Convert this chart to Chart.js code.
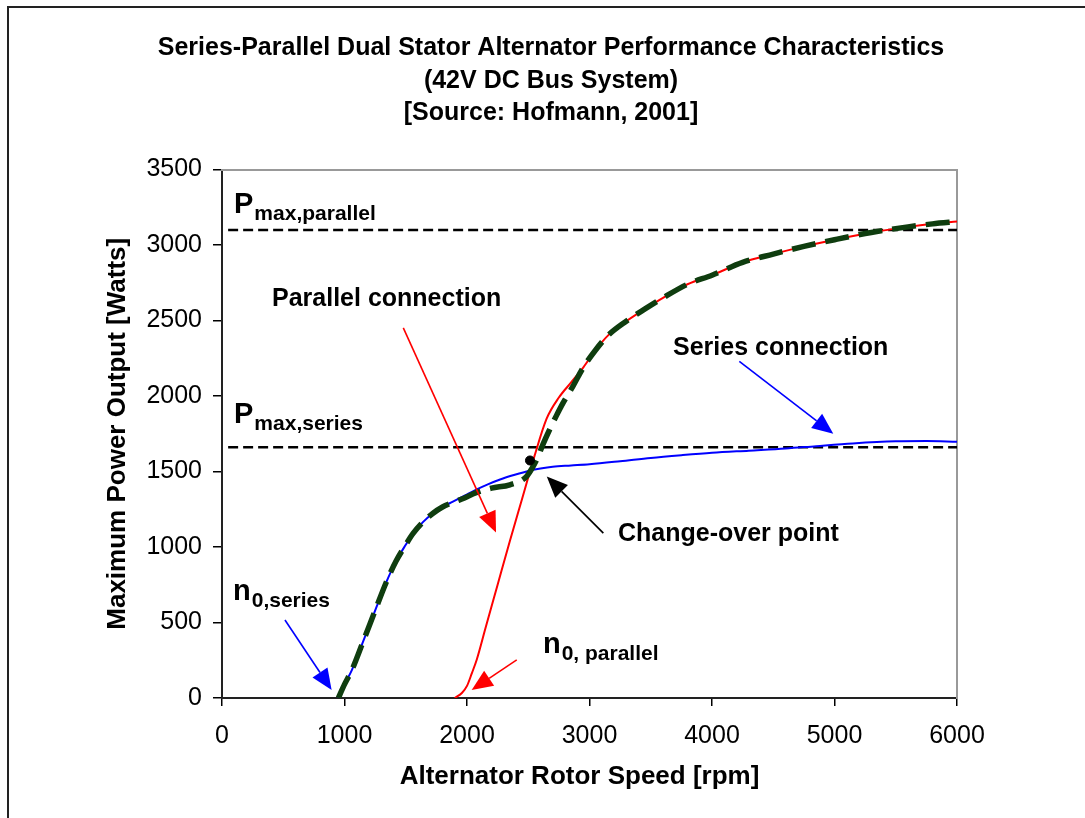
<!DOCTYPE html>
<html>
<head>
<meta charset="utf-8">
<script src="https://cdn.jsdelivr.net/npm/chart.js@4.4.1/dist/chart.umd.min.js"></script>
<style>
  html, body { margin: 0; padding: 0; background: #fff; }
  #wrap { width: 1085px; height: 818px; }
</style>
</head>
<body>
<div id="wrap"><canvas id="perfChart" width="1085" height="818"></canvas></div>
<script>
var FONT = "'Liberation Sans', Arial, Helvetica, sans-serif";

// series connection (blue)
var seriesRpm = [950, 1000, 1060, 1150, 1260, 1340, 1420, 1500, 1560, 1640, 1720, 1800, 1885, 1980, 2075, 2170, 2270, 2390, 2510, 2600, 2700, 2850, 3000, 3250, 3500, 3750, 4000, 4300, 4600, 4850, 5150, 5500, 5750, 6000];
var seriesW = [0, 90, 185, 370, 600, 765, 905, 1015, 1090, 1165, 1222, 1265, 1300, 1340, 1380, 1415, 1447, 1478, 1505, 1520, 1532, 1540, 1548, 1568, 1590, 1608, 1624, 1638, 1652, 1668, 1686, 1700, 1702, 1697];

// parallel connection (red)
var parallelRpm = [1900, 1960, 2000, 2040, 2080, 2150, 2250, 2350, 2450, 2550, 2650, 2750, 2850, 2950, 3050, 3150, 3300, 3450, 3600, 3800, 4000, 4250, 4500, 4750, 5000, 5300, 5600, 5800, 6000];
var parallelW = [0, 35, 80, 165, 255, 460, 750, 1040, 1320, 1600, 1850, 1990, 2090, 2190, 2305, 2400, 2495, 2575, 2650, 2740, 2800, 2885, 2940, 2991, 3035, 3083, 3120, 3140, 3155];

// combined operation (green dashed)
var comboRpm = [950, 1000, 1060, 1150, 1260, 1340, 1420, 1500, 1560, 1640, 1720, 1800, 1885, 1980, 2075, 2200, 2350, 2480, 2530, 2570, 2620, 2673, 2730, 2782, 2863, 2950, 3050, 3150, 3300, 3450, 3600, 3800, 4000, 4250, 4500, 4750, 5000, 5300, 5600, 5800, 6000];
var comboW = [0, 90, 185, 370, 600, 765, 905, 1015, 1090, 1165, 1222, 1265, 1295, 1325, 1360, 1390, 1412, 1462, 1520, 1580, 1680, 1775, 1870, 1951, 2062, 2190, 2305, 2400, 2495, 2575, 2650, 2740, 2800, 2885, 2940, 2991, 3035, 3083, 3120, 3140, 3155];

// limits and change-over point
var pmaxParallel = 3100;
var pmaxSeries = 1660;
var limitRpm = [50, 6000];
var changeOver = [2514, 1573];

var xTicks = [0, 1000, 2000, 3000, 4000, 5000, 6000];
var yTicks = [0, 500, 1000, 1500, 2000, 2500, 3000, 3500];

var titleLines = ['Series-Parallel Dual Stator Alternator Performance Characteristics', '(42V DC Bus System)', '[Source: Hofmann, 2001]'];
var xTitle = 'Alternator Rotor Speed [rpm]';
var yTitle = 'Maximum Power Output [Watts]';

// annotation anchors, in data units (rpm, W)
var arrows = [
  { from: [1480, 2451], to: [2237, 1096], color: '#ff0000' },
  { from: [4223, 2229], to: [4990, 1750], color: '#0000ff' },
  { from: [514, 517], to: [895, 53], color: '#0000ff' },
  { from: [2406, 252], to: [2038, 53], color: '#ff0000' },
  { from: [3113, 1092], to: [2651, 1467], color: '#000000' }
];
var labels = [
  { at: [408, 2599], text: 'Parallel connection' },
  { at: [3682, 2274], text: 'Series connection' },
  { at: [3233, 1041], text: 'Change-over point' }
];
var subLabels = [
  { at: [98, 3215], main: 'P', sub: 'max,parallel' },
  { at: [98, 1823], main: 'P', sub: 'max,series' },
  { at: [90, 650], main: 'n', sub: '0,series' },
  { at: [2620, 298], main: 'n', sub: '0, parallel' }
];

function pts(xs, ys) {
  return xs.map(function (v, i) { return { x: v, y: ys[i] }; });
}

function drawArrow(ctx, x0, y0, x1, y1, color) {
  var ang = Math.atan2(y1 - y0, x1 - x0);
  var len = 21, half = 9;
  var bx = x1 - len * Math.cos(ang), by = y1 - len * Math.sin(ang);
  ctx.strokeStyle = color;
  ctx.lineWidth = 1.6;
  ctx.beginPath();
  ctx.moveTo(x0, y0);
  ctx.lineTo(bx, by);
  ctx.stroke();
  ctx.fillStyle = color;
  ctx.beginPath();
  ctx.moveTo(x1, y1);
  ctx.lineTo(bx + half * Math.sin(ang), by - half * Math.cos(ang));
  ctx.lineTo(bx - half * Math.sin(ang), by + half * Math.cos(ang));
  ctx.closePath();
  ctx.fill();
}

var framePlugin = {
  id: 'frame',
  beforeDraw: function (chart) {
    var ctx = chart.ctx;
    ctx.save();
    ctx.fillStyle = '#fff';
    ctx.fillRect(0, 0, chart.width, chart.height);
    ctx.strokeStyle = '#222';
    ctx.lineWidth = 2;
    ctx.beginPath();
    ctx.moveTo(8, chart.height);
    ctx.lineTo(8, 7);
    ctx.lineTo(chart.width, 7);
    ctx.stroke();
    ctx.restore();
  }
};

var notePlugin = {
  id: 'notes',
  afterDatasetsDraw: function (chart) {
    var ctx = chart.ctx, sx = chart.scales.x, sy = chart.scales.y;
    ctx.save();
    arrows.forEach(function (a) {
      drawArrow(ctx, sx.getPixelForValue(a.from[0]), sy.getPixelForValue(a.from[1]),
        sx.getPixelForValue(a.to[0]), sy.getPixelForValue(a.to[1]), a.color);
    });
    ctx.fillStyle = '#000';
    ctx.textBaseline = 'alphabetic';
    ctx.textAlign = 'left';
    ctx.font = 'bold 25px ' + FONT;
    labels.forEach(function (l) {
      ctx.fillText(l.text, sx.getPixelForValue(l.at[0]), sy.getPixelForValue(l.at[1]));
    });
    subLabels.forEach(function (l) {
      var px = sx.getPixelForValue(l.at[0]), py = sy.getPixelForValue(l.at[1]);
      ctx.font = 'bold 29px ' + FONT;
      ctx.fillText(l.main, px, py);
      var w = ctx.measureText(l.main).width;
      ctx.font = 'bold 21px ' + FONT;
      ctx.fillText(l.sub, px + w + 1, py + 7);
    });
    // x axis title, centred a little left of the plot centre as in the source
    ctx.font = 'bold 26px ' + FONT;
    ctx.textAlign = 'center';
    ctx.textBaseline = 'middle';
    ctx.fillText(xTitle, (sx.left + sx.right) / 2 - 10, 777);
    ctx.restore();
  }
};

var ctx = document.getElementById('perfChart').getContext('2d');

var perfChart = new Chart(ctx, {
  type: 'line',
  data: {
    datasets: [
      {
        label: 'Change-over point',
        data: [{ x: changeOver[0], y: changeOver[1] }],
        showLine: false,
        pointRadius: 4.5,
        pointBackgroundColor: '#000',
        pointBorderColor: '#000',
        order: 0
      },
      {
        label: 'Operating curve',
        data: pts(comboRpm, comboW),
        borderColor: '#0f3d0f',
        borderWidth: 5.5,
        borderDash: [24, 10],
        pointRadius: 0,
        cubicInterpolationMode: 'monotone',
        fill: false,
        order: 1
      },
      {
        label: 'Parallel connection',
        data: pts(parallelRpm, parallelW),
        borderColor: '#ff0000',
        borderWidth: 2,
        pointRadius: 0,
        cubicInterpolationMode: 'monotone',
        fill: false,
        order: 2
      },
      {
        label: 'Series connection',
        data: pts(seriesRpm, seriesW),
        borderColor: '#0000ff',
        borderWidth: 2,
        pointRadius: 0,
        cubicInterpolationMode: 'monotone',
        fill: false,
        order: 3
      },
      {
        label: 'Pmax,parallel',
        data: pts(limitRpm, [pmaxParallel, pmaxParallel]),
        borderColor: '#000',
        borderWidth: 2.5,
        borderDash: [10, 5],
        pointRadius: 0,
        fill: false,
        order: 4
      },
      {
        label: 'Pmax,series',
        data: pts(limitRpm, [pmaxSeries, pmaxSeries]),
        borderColor: '#000',
        borderWidth: 2.5,
        borderDash: [10, 5],
        pointRadius: 0,
        fill: false,
        order: 5
      }
    ]
  },
  options: {
    responsive: false,
    animation: false,
    devicePixelRatio: 1,
    layout: { padding: { left: 17, right: 0, top: 0, bottom: 0 } },
    plugins: {
      legend: { display: false },
      tooltip: { enabled: false },
      title: {
        display: true,
        text: titleLines,
        color: '#000',
        font: { family: FONT, size: 25, weight: 'bold', lineHeight: 1.3 },
        padding: { top: 32, bottom: 40 }
      }
    },
    scales: {
      x: {
        type: 'linear',
        position: 'bottom',
        min: 0,
        max: 6000,
        afterBuildTicks: function (s) { s.ticks = xTicks.map(function (v) { return { value: v }; }); },
        afterFit: function (s) { s.height = 120; },
        ticks: {
          color: '#000',
          font: { family: FONT, size: 25 },
          padding: 15,
          maxRotation: 0,
          callback: function (v) { return String(v); }
        },
        grid: { drawOnChartArea: false, drawTicks: true, tickLength: 8, color: '#000', lineWidth: 1.5 },
        border: { color: '#222', width: 2 },
        title: { display: false }
      },
      y: {
        type: 'linear',
        position: 'left',
        min: 0,
        max: 3500,
        afterBuildTicks: function (s) { s.ticks = yTicks.map(function (v) { return { value: v }; }); },
        afterFit: function (s) { s.width = 205; },
        ticks: {
          color: '#000',
          font: { family: FONT, size: 25 },
          padding: 11,
          callback: function (v) { return String(v); }
        },
        grid: { drawOnChartArea: false, drawTicks: true, tickLength: 9, color: '#000', lineWidth: 1.5 },
        border: { color: '#222', width: 2 },
        title: {
          display: true,
          text: yTitle,
          color: '#000',
          font: { family: FONT, size: 26, weight: 'bold', lineHeight: 1.2 },
          padding: { top: 85, bottom: 0 }
        }
      },
      x2: {
        type: 'linear',
        position: 'top',
        min: 0,
        max: 6000,
        display: true,
        afterFit: function (s) { s.height = 0; },
        ticks: { display: false },
        grid: { display: false },
        border: { color: '#999', width: 2 }
      },
      y2: {
        type: 'linear',
        position: 'right',
        min: 0,
        max: 3500,
        display: true,
        afterFit: function (s) { s.width = 128; },
        ticks: { display: false },
        grid: { display: false },
        border: { color: '#999', width: 2 }
      }
    }
  },
  plugins: [framePlugin, notePlugin]
});
</script>
</body>
</html>
